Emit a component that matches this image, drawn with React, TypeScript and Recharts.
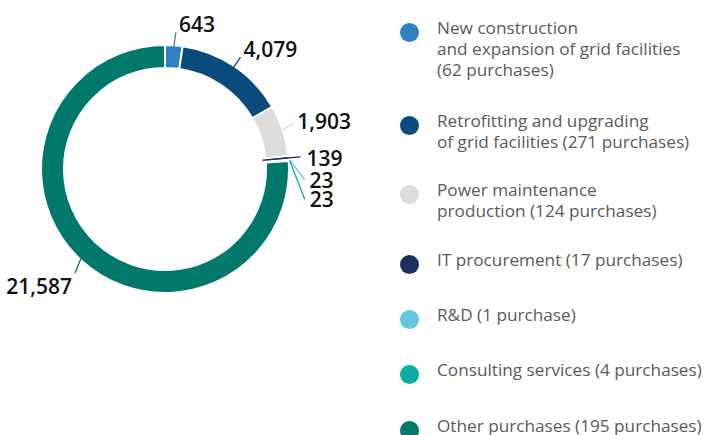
import React from 'react';
import { PieChart, Pie, Cell, Legend } from 'recharts';

// purchase amounts per category
const categories = [
  'New construction\nand expansion of grid facilities\n(62 purchases)',
  'Retrofitting and upgrading\nof grid facilities (271 purchases)',
  'Power maintenance\nproduction (124 purchases)',
  'IT procurement (17 purchases)',
  'R&D (1 purchase)',
  'Consulting services (4 purchases)',
  'Other purchases (195 purchases)',
];
const amounts = [643, 4079, 1903, 139, 23, 23, 21587];
const colors = ['#2f80c6', '#0b4a7d', '#dcdcdc', '#1c2f5f', '#63c8db', '#0bae9f', '#00786b'];

const data = categories.map((name, i) => ({ name, value: amounts[i] }));

const RAD = Math.PI / 180;

// leader line tweaks per slice: angle shift, start/end radius, text offset, anchor
const labelLayout = [
  { shift: -0.5, r0: 122, r1: 137, dx: 3, dy: 0, anchor: 'start' },
  { shift: 0, r0: 120, r1: 135, dx: 3, dy: 0, anchor: 'start' },
  { shift: 1.4, r0: 120, r1: 136, dx: 4, dy: 5, anchor: 'start' },
  { shift: 0, r0: 98, r1: 136, dx: 6, dy: 9, anchor: 'start' },
  { shift: -8.4, r0: 125, r1: 140, dx: 5, dy: 9, anchor: 'start' },
  { shift: -16, r0: 125, r1: 143, dx: 5, dy: 8, anchor: 'start' },
  { shift: 2.3, r0: 123, r1: 137.5, dx: -3, dy: 21, anchor: 'end' },
];

const renderLabel = (props: any) => {
  const { cx, cy, midAngle, index, value } = props;
  const l = labelLayout[index];
  const a = midAngle + l.shift;
  const sx = cx + l.r0 * Math.cos(-midAngle * RAD);
  const sy = cy + l.r0 * Math.sin(-midAngle * RAD);
  const ex = cx + l.r1 * Math.cos(-a * RAD);
  const ey = cy + l.r1 * Math.sin(-a * RAD);
  return (
    <g key={`lbl-${index}`}>
      <line x1={sx} y1={sy} x2={ex} y2={ey} stroke={colors[index]} strokeWidth={1.3} />
      <text
        x={ex + l.dx}
        y={ey + l.dy}
        textAnchor={l.anchor}
        fill="#111"
        fontSize={21}
        fontWeight={600}
        fontFamily="'Open Sans', sans-serif"
      >
        {value.toLocaleString('en-US')}
      </text>
    </g>
  );
};

// top of each legend row
const legendTops = [17, 110, 179, 249, 304, 359, 415];

const LegendBlock = () => (
  <div style={{ position: 'relative', width: 316, height: 435, overflow: 'hidden' }}>
    {categories.map((c, i) => (
      <div key={c} style={{ position: 'absolute', top: legendTops[i], left: 0 }}>
        <span
          style={{
            position: 'absolute', left: 8, top: 6, width: 19, height: 19,
            borderRadius: '50%', background: colors[i],
          }}
        />
        <div
          style={{
            position: 'absolute', left: 45, top: 0, whiteSpace: 'pre',
            fontFamily: "'Open Sans', sans-serif", fontSize: 17.2, lineHeight: '21px',
            color: '#5a5a5a',
          }}
        >
          {c}
        </div>
      </div>
    ))}
  </div>
);

export default function App() {
  return (
    <div style={{ position: 'absolute', left: 0, top: 0, width: 708, height: 435, background: '#fff' }}>
      <PieChart width={708} height={435} margin={{ top: 0, right: 0, bottom: 0, left: 0 }}>
        <Pie
          data={data}
          dataKey="value"
          nameKey="name"
          cx={165}
          cy={169}
          innerRadius={101}
          outerRadius={124}
          startAngle={90}
          endAngle={-270}
          stroke="#fff"
          strokeWidth={2}
          label={renderLabel}
          labelLine={false}
          isAnimationActive={false}
        >
          {data.map((d, i) => (
            <Cell key={d.name} fill={colors[i]} />
          ))}
        </Pie>
        <Legend
          content={<LegendBlock />}
          wrapperStyle={{ position: 'absolute', left: 392, top: 0, width: 316, height: 435 }}
        />
      </PieChart>
    </div>
  );
}
